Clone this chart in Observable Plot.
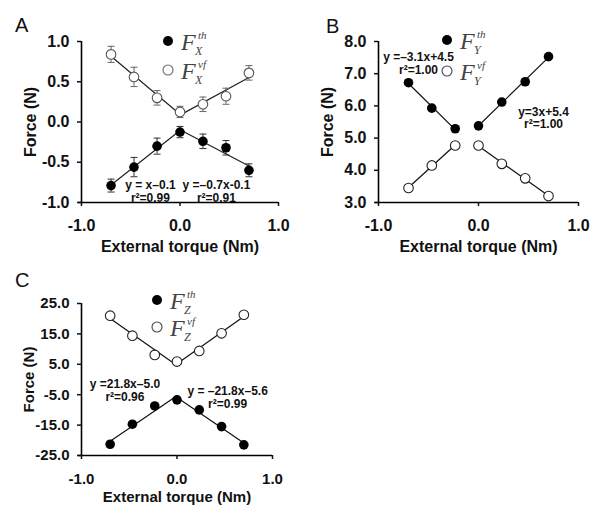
<!DOCTYPE html>
<html><head><meta charset="utf-8">
<script src="https://cdn.jsdelivr.net/npm/d3@7"></script>
<script src="https://cdn.jsdelivr.net/npm/@observablehq/plot@0.6"></script>
<style>
body{margin:0;background:#fff;}
#root{position:relative;width:601px;height:514px;overflow:hidden;font-family:"Liberation Sans",Arial,sans-serif;}
#root > svg{position:absolute;}
.letter{position:absolute;font-size:20px;line-height:1;color:#111;}
</style></head><body><div id="root"></div>
<script>
// ---------- data ----------
const xTicks = [-1, 0, 1];
const torque = [-0.7, -0.467, -0.233, 0, 0.233, 0.467, 0.7];

// Panel A: F_X
const fxTh    = [-0.79, -0.56, -0.30, -0.125, -0.24, -0.32, -0.60];
const fxThErr = [0.08, 0.12, 0.10, 0.07, 0.09, 0.09, 0.08];
const fxVf    = [0.84, 0.56, 0.30, 0.125, 0.22, 0.32, 0.61];
const fxVfErr = [0.10, 0.12, 0.09, 0.07, 0.09, 0.10, 0.09];
const yTicksA = [-1, -0.5, 0, 0.5, 1];
const eqTextA = ["y = x–0.1\nr²=0.99", "y =–0.7x-0.1\nr²=0.91"];
const eqXA = [-0.30, 0.37];
const eqYA = [-0.86, -0.86];

// Panel B: F_Y
const fyTh = [6.72, 5.93, 5.29, 5.38, 6.12, 6.75, 7.53];
const fyVf = [3.45, 4.15, 4.77, 4.77, 4.20, 3.75, 3.20];
const yTicksB = [3, 4, 5, 6, 7, 8];
const eqTextB = ["y =–3.1x+4.5\nr²=1.00", "y=3x+5.4\nr²=1.00"];
const eqXB = [-0.60, 0.65];
const eqYB = [7.31, 5.62];

// Panel C: F_Z
const fzTh = [-21.3, -14.7, -8.7, -6.7, -10.0, -15.5, -21.5];
const fzVf = [21.0, 14.4, 8.1, 5.9, 9.4, 15.2, 21.3];
const yTicksC = [-25, -15, -5, 5, 15, 25];
const eqTextC = ["y =21.8x–5.0\nr²=0.96", "y = –21.8x–5.6\nr²=0.99"];
const eqXC = [-0.545, 0.53];
const eqYC = [-3.7, -6.0];

// ---------- drawing ----------
const root = document.getElementById("root");
const fmt = d => d.toFixed(1);
const hline = {draw(ctx, size){ const w = Math.sqrt(size / Math.PI); ctx.moveTo(-w, 0); ctx.lineTo(w, 0); }};

function makePanel(cfg) {
  const rows = torque.map((x, i) => ({
    x, th: cfg.th[i], vf: cfg.vf[i],
    thE: cfg.thErr ? cfg.thErr[i] : 0, vfE: cfg.vfErr ? cfg.vfErr[i] : 0
  }));
  const fit = [];
  for (const s of ["th", "vf"]) for (const d of rows) {
    if (cfg.leftFit(d.x)) fit.push({x: d.x, y: d[s], g: s + "L"});
    if (d.x >= 0) fit.push({x: d.x, y: d[s], g: s + "R"});
  }
  const eq = cfg.eqText.map((t, i) => ({t, x: cfg.eqX[i], y: cfg.eqY[i]}));
  const marks = [
    Plot.linearRegressionY(fit, {x: "x", y: "y", z: "g", stroke: cfg.lineColor, strokeWidth: 1.2, ci: 0}),
  ];
  if (cfg.thErr) {
    for (const [k, e, c] of [["th", "thE", "#333"], ["vf", "vfE", "#666"]]) {
      marks.push(
        Plot.ruleX(rows, {x: "x", y1: d => d[k] - d[e], y2: d => d[k] + d[e], stroke: c, strokeWidth: 1}),
        Plot.dot(rows, {x: "x", y: d => d[k] + d[e], symbol: hline, r: 3.5, stroke: c, strokeWidth: 1}),
        Plot.dot(rows, {x: "x", y: d => d[k] - d[e], symbol: hline, r: 3.5, stroke: c, strokeWidth: 1})
      );
    }
  }
  marks.push(
    Plot.dot(rows, {x: "x", y: "vf", r: 4.8, fill: "white", stroke: cfg.openStroke, strokeWidth: 1.1}),
    Plot.dot(rows, {x: "x", y: "th", r: 4.8, fill: "black"}),
    Plot.text(eq, {x: "x", y: "y", text: "t", fontSize: cfg.eqSize, fontWeight: "bold", lineHeight: 1.05, fill: "#111"}),
    Plot.ruleX([xTicks[0]], {stroke: "black", strokeWidth: 1.6}),
    Plot.ruleY([cfg.yTicks[0]], {stroke: "black", strokeWidth: 1.6, insetLeft: -3}),
    Plot.axisX({ticks: xTicks, tickFormat: fmt, tickSize: 4, tickPadding: cfg.xPad, strokeWidth: 1.5,
      label: "External torque (Nm)", labelAnchor: "center", labelOffset: cfg.xLabelOffset, labelArrow: "none"}),
    Plot.axisY({ticks: cfg.yTicks, tickFormat: fmt, tickSize: 4, tickPadding: 8, strokeWidth: 1.5,
      label: "Force (N)", labelAnchor: "center", labelOffset: cfg.yLabelOffset, labelArrow: "none"})
  );
  const svg = Plot.plot({
    width: cfg.width, height: cfg.height,
    marginLeft: cfg.m[0], marginRight: cfg.m[1], marginTop: cfg.m[2], marginBottom: cfg.m[3],
    x: {domain: [xTicks[0], xTicks[xTicks.length - 1]]},
    y: {domain: [cfg.yTicks[0], cfg.yTicks[cfg.yTicks.length - 1]]},
    style: {fontFamily: '"Liberation Sans", Arial, sans-serif', fontSize: cfg.fontSize + "px",
      fontWeight: "bold", color: "#111", background: "transparent", overflow: "visible"},
    marks
  });
  svg.style.left = cfg.left + "px";
  svg.style.top = cfg.top + "px";
  root.appendChild(svg);
}

makePanel({th: fxTh, vf: fxVf, thErr: fxThErr, vfErr: fxVfErr, yTicks: yTicksA,
  eqText: eqTextA, eqX: eqXA, eqY: eqYA, leftFit: x => x <= 0,
  left: 0, top: 0, width: 300, height: 256, m: [81, 22, 41, 54],
  fontSize: 16, eqSize: 12, lineColor: "#222", openStroke: "#555", xPad: 13, xLabelOffset: 49, yLabelOffset: 57});

makePanel({th: fyTh, vf: fyVf, yTicks: yTicksB,
  eqText: eqTextB, eqX: eqXB, eqY: eqYB, leftFit: x => x < 0,
  left: 297, top: 0, width: 300, height: 256, m: [81, 19, 41, 54],
  fontSize: 16, eqSize: 12, lineColor: "#111", openStroke: "#222", xPad: 13, xLabelOffset: 49, yLabelOffset: 57});

makePanel({th: fzTh, vf: fzVf, yTicks: yTicksC,
  eqText: eqTextC, eqX: eqXC, eqY: eqYC, leftFit: x => x <= 0,
  left: 0, top: 250, width: 300, height: 264, m: [81, 28, 53, 59],
  fontSize: 15, eqSize: 12, lineColor: "#111", openStroke: "#222", xPad: 14, xLabelOffset: 46, yLabelOffset: 58});

// panel letters
for (const [t, x, y] of [["A", 15, 15], ["B", 326, 16], ["C", 15, 270]]) {
  const d = document.createElement("div");
  d.className = "letter"; d.textContent = t;
  d.style.left = x + "px"; d.style.top = y + "px";
  root.appendChild(d);
}

// legends (overlay)
const ov = d3.select(root).append("svg").attr("width", 601).attr("height", 514)
  .style("left", "0px").style("top", "0px").style("pointer-events", "none");
function legendItem(cx, cy, filled, sub, sup, open) {
  ov.append("circle").attr("cx", cx).attr("cy", cy).attr("r", 5)
    .attr("fill", filled ? "black" : "white").attr("stroke", filled ? "none" : open).attr("stroke-width", 1.1);
  const g = ov.append("g").attr("font-family", '"Liberation Serif","Times New Roman",serif')
    .attr("font-style", "italic").attr("fill", "#444");
  const fx = cx + 13, base = cy + 9;
  g.append("text").attr("x", fx).attr("y", base).attr("font-size", 24).text("F");
  g.append("text").attr("x", fx + 14).attr("y", base + 5).attr("font-size", 12).text(sub);
  g.append("text").attr("x", fx + 17).attr("y", base - 11).attr("font-size", 11).text(sup);
}
legendItem(168, 41, true, "X", "th");
legendItem(168, 70, false, "X", "vf", "#666");
legendItem(447, 40, true, "Y", "th");
legendItem(447, 71, false, "Y", "vf", "#444");
legendItem(157, 300, true, "Z", "th");
legendItem(157, 327, false, "Z", "vf", "#444");
</script></body></html>
